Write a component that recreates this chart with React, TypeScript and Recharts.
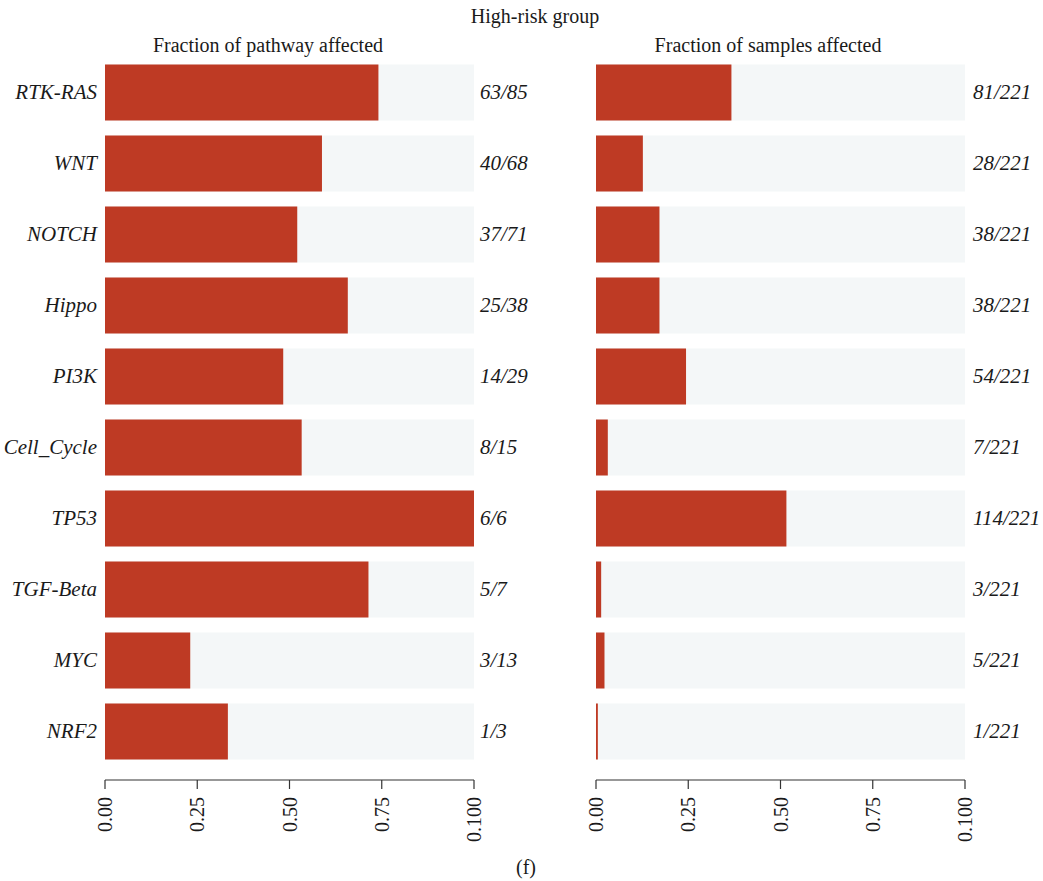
import React from 'react';
import { BarChart, Bar, XAxis, YAxis } from 'recharts';

const pathways = ['RTK-RAS', 'WNT', 'NOTCH', 'Hippo', 'PI3K', 'Cell_Cycle', 'TP53', 'TGF-Beta', 'MYC', 'NRF2'];
const pathwayFraction = [0.741, 0.588, 0.521, 0.658, 0.483, 0.533, 1.0, 0.714, 0.231, 0.333];
const pathwayLabels = ['63/85', '40/68', '37/71', '25/38', '14/29', '8/15', '6/6', '5/7', '3/13', '1/3'];
const sampleFraction = [0.367, 0.127, 0.172, 0.172, 0.244, 0.032, 0.516, 0.014, 0.023, 0.005];
const sampleLabels = ['81/221', '28/221', '38/221', '38/221', '54/221', '7/221', '114/221', '3/221', '5/221', '1/221'];
const xTicks = [0, 0.25, 0.5, 0.75, 1];
const xTickLabels = ['0.00', '0.25', '0.50', '0.75', '0.100'];

const FONT = '"Liberation Serif", "DejaVu Serif", serif';
const RED = '#BE3A24';
const BG = '#F4F7F8';
const TXT = '#1a1a1a';

const leftData = pathways.map((name, i) => ({ name, value: pathwayFraction[i] }));
const rightData = pathways.map((name, i) => ({ name, value: sampleFraction[i] }));

const XTick = (props: any) => {
  const { x, y, payload, index } = props;
  const yy = y + 6;
  return (
    <text
      x={x}
      y={yy}
      transform={`rotate(-90 ${x} ${yy})`}
      textAnchor="end"
      dominantBaseline="central"
      fontFamily={FONT}
      fontSize={20}
      fill={TXT}
    >
      {xTickLabels[index] ?? payload.value}
    </text>
  );
};

const makeRightTick = (labels: string[]) => (props: any) => {
  const { x, y, index } = props;
  return (
    <text x={x} y={y} textAnchor="start" dominantBaseline="central" fontFamily={FONT} fontSize={21} fontStyle="italic" fill={TXT}>
      {labels[index]}
    </text>
  );
};

const LeftTick = (props: any) => {
  const { x, y, payload } = props;
  return (
    <text x={x} y={y} textAnchor="end" dominantBaseline="central" fontFamily={FONT} fontSize={21} fontStyle="italic" fill={TXT}>
      {payload.value}
    </text>
  );
};

const PanelChart = ({ data, labels, showNames }: { data: any[]; labels: string[]; showNames: boolean }) => {
  const width = showNames ? 560 : 553;
  return (
    <BarChart
      width={width}
      height={881}
      data={data}
      layout="vertical"
      margin={{ top: 56.5, bottom: 41, left: showNames ? 0 : 106, right: 0 }}
      barSize={56}
    >
      <XAxis
        type="number"
        domain={[0, 1]}
        ticks={xTicks}
        interval={0}
        height={60}
        axisLine={{ stroke: '#333', strokeWidth: 1.2 }}
        tickLine={{ stroke: '#333', strokeWidth: 1.2 }}
        tickSize={9}
        tick={<XTick />}
      />
      <YAxis
        yAxisId="l"
        type="category"
        dataKey="name"
        width={105}
        hide={!showNames}
        axisLine={false}
        tickLine={false}
        tickSize={0}
        tickMargin={8}
        padding={{ top: 0, bottom: 13.5 }}
        tick={<LeftTick />}
        interval={0}
      />
      <YAxis
        yAxisId="r"
        orientation="right"
        type="category"
        dataKey="name"
        width={showNames ? 86 : 78}
        axisLine={false}
        tickLine={false}
        tickSize={0}
        tickMargin={showNames ? 6 : 8}
        padding={{ top: 0, bottom: 13.5 }}
        tick={makeRightTick(labels)}
        interval={0}
      />
      <Bar yAxisId="l" dataKey="value" fill={RED} background={{ fill: BG }} isAnimationActive={false} />
    </BarChart>
  );
};

export default function App() {
  return (
    <div style={{ position: 'absolute', left: 0, top: 0, width: 1043, height: 881, background: '#fff' }}>
      <div style={{ position: 'absolute', left: 0, top: 0 }}>
        <PanelChart data={leftData} labels={pathwayLabels} showNames={true} />
      </div>
      <div style={{ position: 'absolute', left: 490, top: 0 }}>
        <PanelChart data={rightData} labels={sampleLabels} showNames={false} />
      </div>
      <svg width={1043} height={881} style={{ position: 'absolute', left: 0, top: 0, pointerEvents: 'none' }}>
        <text x={535} y={23} textAnchor="middle" fontFamily={FONT} fontSize={20} fill={TXT}>High-risk group</text>
        <text x={268} y={52} textAnchor="middle" fontFamily={FONT} fontSize={20} fill={TXT}>Fraction of pathway affected</text>
        <text x={768} y={52} textAnchor="middle" fontFamily={FONT} fontSize={20} fill={TXT}>Fraction of samples affected</text>
        <text x={526} y={874} textAnchor="middle" fontFamily={FONT} fontSize={20} fill={TXT}>(f)</text>
      </svg>
    </div>
  );
}
